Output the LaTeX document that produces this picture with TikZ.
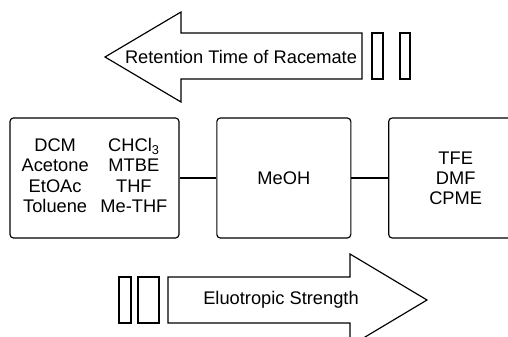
\documentclass[tikz,border=0pt]{standalone}
\usepackage{fontspec}
\setmainfont{Liberation Sans}
\usetikzlibrary{positioning}

\begin{document}
\begin{tikzpicture}[x=0.3mm,y=-0.3mm,line width=1pt,node distance=11mm,
	font=\fontsize{15.6pt}{17.2pt}\selectfont,
	solvent/.style={draw,rounded corners=3pt,minimum width=134*0.3mm,minimum height=120*0.3mm,align=center,inner sep=0pt}]
	\useasboundingbox (0,0) rectangle (508,337);

	% retention time arrow
	\draw (105,57) -- (181,12) -- (181,33) -- (362,33) -- (362,79) -- (181,79) -- (181,102) -- cycle;
	\draw (372,33) rectangle (383,79);
	\draw (400,33) rectangle (410,79);
	\node (rt) at (241,57) {Retention Time of Racemate};

	% solvent groups
	\node[solvent, minimum width=169*0.3mm] (0) at (94.5,178) {%
		\begin{tabular}{@{}c@{\hspace{10pt}}c@{}}
			DCM & CHCl\textsubscript{3}\\
			Acetone & MTBE\\
			EtOAc & THF\\
			Toluene & Me-THF
		\end{tabular}};
	\node[solvent] (1) [right=of 0] {MeOH};
	\node[solvent] (2) [right=of 1] {TFE\\DMF\\CPME};

	\path
		(0) edge (1)
		(1) edge (2)
	;

	% eluotropic strength arrow
	\draw (119,277) rectangle (131,323);
	\draw (138,277) rectangle (159,323);
	\draw (168,277) -- (350,277) -- (350,254) -- (427,300) -- (350,346) -- (350,323) -- (168,323) -- cycle;
	\node (es) at (281,300) {Eluotropic Strength};
\end{tikzpicture}
\end{document}
